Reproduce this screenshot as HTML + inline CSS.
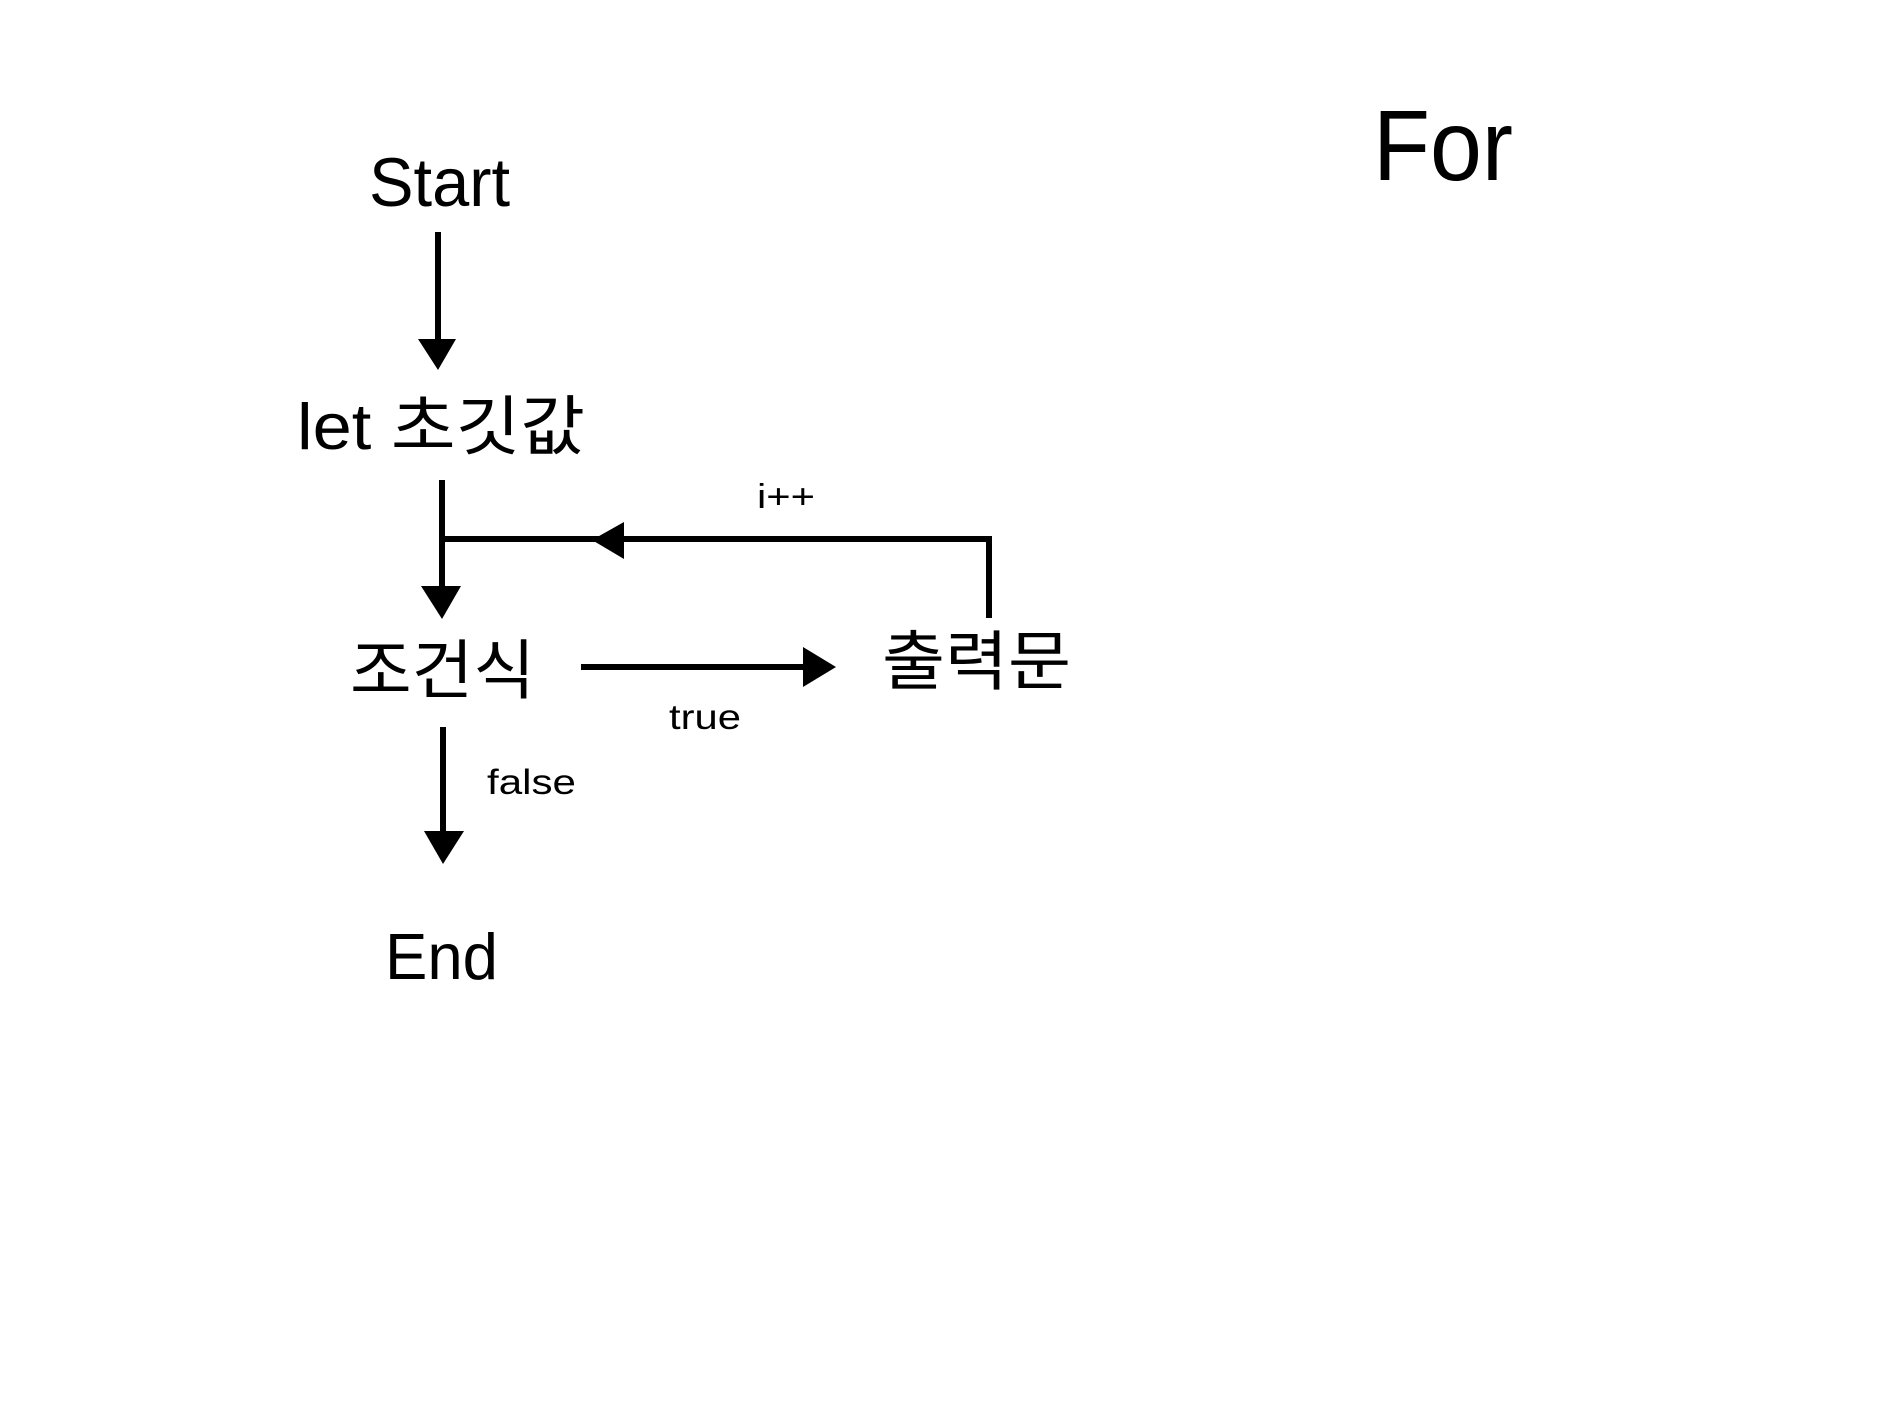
<!DOCTYPE html>
<html><head><meta charset="utf-8"><style>
html,body{margin:0;padding:0;background:#fff;}
svg{display:block;}
text{font-family:"Liberation Sans","Noto Sans CJK KR",sans-serif;fill:#000;}
</style></head><body>
<svg width="1890" height="1417" viewBox="0 0 1890 1417">
<text x="1373" y="180" font-size="100" textLength="140" lengthAdjust="spacingAndGlyphs">For</text>
<text x="369" y="206" font-size="69" textLength="141" lengthAdjust="spacingAndGlyphs">Start</text>
<g>
<line x1="438" y1="232" x2="438" y2="343" stroke="#000" stroke-width="6"/>
<polygon points="418,339 456,339 438,370" fill="#000"/>
</g>
<text x="297" y="449" font-size="65" textLength="288" lengthAdjust="spacingAndGlyphs">let 초깃값</text>
<g>
<line x1="442" y1="480" x2="442" y2="590" stroke="#000" stroke-width="6"/>
<polygon points="421,586 461,586 442,619" fill="#000"/>
</g>
<g>
<polyline points="442,539 989,539 989,618" fill="none" stroke="#000" stroke-width="6"/>
<polygon points="592,540 624,522 624,559" fill="#000"/>
</g>
<text x="757" y="508" font-size="34" textLength="58" lengthAdjust="spacingAndGlyphs">i++</text>
<text x="350" y="693" font-size="65" textLength="185" lengthAdjust="spacingAndGlyphs">조건식</text>
<g>
<line x1="581" y1="667" x2="806" y2="667" stroke="#000" stroke-width="6"/>
<polygon points="803,647 836,667 803,687" fill="#000"/>
</g>
<text x="669" y="729" font-size="35" textLength="72" lengthAdjust="spacingAndGlyphs">true</text>
<text x="882" y="684" font-size="65" textLength="189" lengthAdjust="spacingAndGlyphs">출력문</text>
<g>
<line x1="443" y1="727" x2="443" y2="835" stroke="#000" stroke-width="6"/>
<polygon points="424,831 464,831 443,864" fill="#000"/>
</g>
<text x="487" y="794" font-size="35" textLength="89" lengthAdjust="spacingAndGlyphs">false</text>
<text x="385" y="979" font-size="65" textLength="113" lengthAdjust="spacingAndGlyphs">End</text>
</svg>
</body></html>
